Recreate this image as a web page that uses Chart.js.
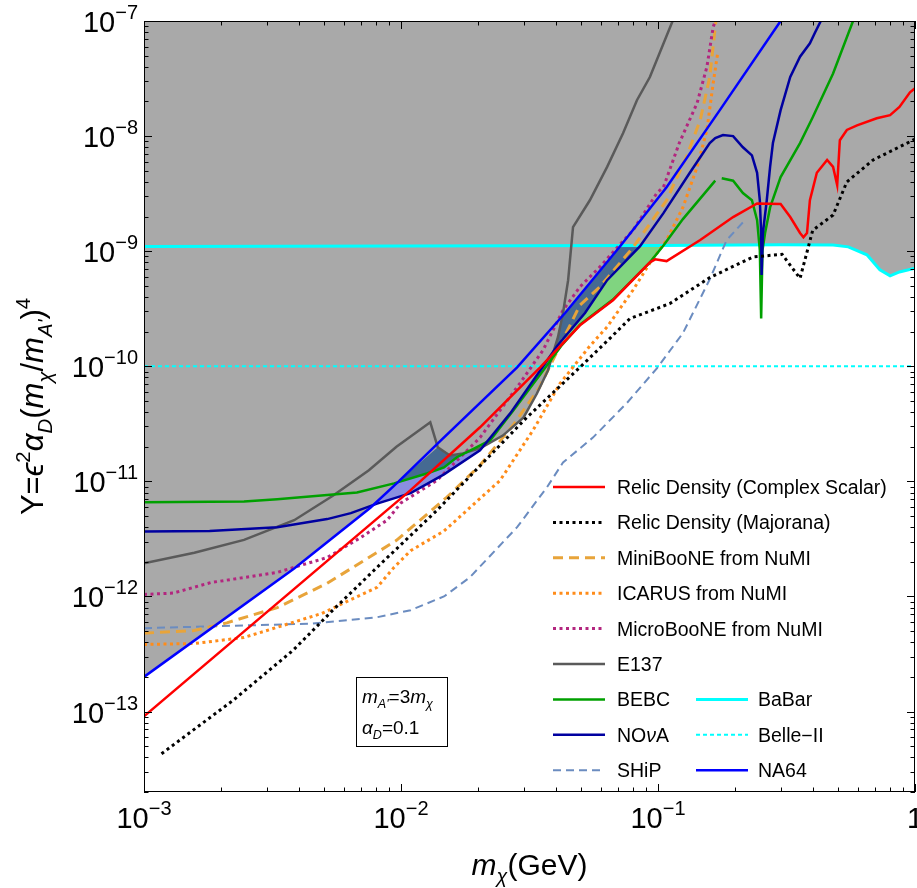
<!DOCTYPE html>
<html>
<head>
<meta charset="utf-8">
<script src="https://cdn.jsdelivr.net/npm/chart.js@4.4.0/dist/chart.umd.min.js"></script>
<style>
  html, body { margin: 0; padding: 0; background: #fff; }
  #wrap { width: 917px; height: 888px; }
</style>
</head>
<body>
<div id="wrap"><canvas id="chart" width="917" height="888"></canvas></div>
<script>
// axis ranges and tick labels
const xLimits = [1e-3, 1];
const yLimits = [2e-14, 1e-7];
const xTicks = [1e-3, 1e-2, 1e-1, 1];
const xTickLabels = [["10", "−3"], ["10", "−2"], ["10", "−1"], ["1", ""]];
const yTicks = [1e-13, 1e-12, 1e-11, 1e-10, 1e-9, 1e-8, 1e-7];
const yTickLabels = [["10", "−13"], ["10", "−12"], ["10", "−11"], ["10", "−10"], ["10", "−9"], ["10", "−8"], ["10", "−7"]];

// curves: [m_chi (GeV), Y]
const relicScalar = [[1e-3, 9.1e-14], [0.0109, 8.4e-12], [0.0203, 2.95e-11], [0.0348, 9.8e-11], [0.0497, 2.27e-10],
  [0.0668, 3.75e-10], [0.093, 8.0e-10], [0.0975, 8.5e-10], [0.108, 8.2e-10], [0.146, 1.25e-9], [0.196, 1.98e-9],
  [0.243, 2.6e-9], [0.3, 2.57e-9], [0.327, 1.98e-9], [0.357, 1.44e-9], [0.368, 1.32e-9], [0.38, 1.44e-9],
  [0.39, 2.77e-9], [0.415, 4.8e-9], [0.455, 6.2e-9], [0.48, 5.4e-9], [0.498, 3.75e-9], [0.51, 9.2e-9],
  [0.543, 1.13e-8], [0.595, 1.24e-8], [0.71, 1.43e-8], [0.8, 1.52e-8], [0.87, 1.79e-8], [0.956, 2.4e-8], [1, 2.6e-8]];
const relicMajorana = [[1.17e-3, 4.3e-14], [2.22e-3, 1.25e-13], [3.8e-3, 3.4e-13], [5.43e-3, 7.6e-13], [8.07e-3, 1.79e-12],
  [0.0138, 5.6e-12], [0.0309, 3.6e-11], [0.0497, 9.8e-11], [0.065, 1.75e-10], [0.0778, 2.6e-10], [0.111, 3.5e-10],
  [0.159, 5.9e-10], [0.234, 8.9e-10], [0.304, 9.4e-10], [0.357, 5.8e-10], [0.40, 1.52e-9], [0.48, 2.06e-9],
  [0.543, 4e-9], [0.687, 6.2e-9], [1, 9.4e-9]];
const miniboone = [[1e-3, 4.8e-13], [1.57e-3, 5.06e-13], [2.1e-3, 5.9e-13], [3.3e-3, 8.0e-13], [5.16e-3, 1.3e-12],
  [9.6e-3, 3.07e-12], [0.0151, 7.3e-12], [0.0203, 1.38e-11], [0.0273, 3.07e-11], [0.0345, 6.5e-11], [0.0416, 1.52e-10],
  [0.0497, 3.4e-10], [0.0594, 4.9e-10], [0.08, 1.08e-9], [0.108, 2.77e-9], [0.129, 6.6e-9], [0.146, 1.38e-8],
  [0.159, 3.26e-8], [0.168, 1e-7]];
const icarus = [[1e-3, 3.83e-13], [1.57e-3, 3.9e-13], [2.45e-3, 4.4e-13], [3.3e-3, 5.4e-13], [4.9e-3, 7.1e-13],
  [8.07e-3, 1.2e-12], [9.4e-3, 1.79e-12], [0.0109, 2.5e-12], [0.0147, 3.7e-12], [0.0243, 1.02e-11], [0.0327, 2.8e-11],
  [0.0416, 7.1e-11], [0.0543, 1.5e-10], [0.0634, 2.2e-10], [0.08, 4.6e-10], [0.093, 7.9e-10], [0.108, 1.25e-9],
  [0.125, 2.4e-9], [0.142, 5.4e-9], [0.155, 1.13e-8], [0.164, 2.9e-8], [0.171, 5.4e-8]];
const microboone = [[1e-3, 1.04e-12], [1.3e-3, 1.07e-12], [1.82e-3, 1.32e-12], [3.3e-3, 1.62e-12], [5.16e-3, 2.18e-12],
  [6.98e-3, 3.26e-12], [8.83e-3, 4.6e-12], [0.01, 6.5e-12], [0.0138, 1.02e-11], [0.0203, 2.4e-11], [0.029, 7.1e-11],
  [0.0357, 1.38e-10], [0.0427, 3.07e-10], [0.0497, 4.9e-10], [0.0594, 7.3e-10], [0.07, 1.1e-9], [0.08, 1.52e-9],
  [0.099, 3.2e-9], [0.105, 3.6e-9], [0.121, 8.7e-9], [0.142, 1.94e-8], [0.155, 4e-8], [0.164, 8.9e-8], [0.167, 1e-7]];
const e137 = [[1e-3, 1.94e-12], [1.57e-3, 2.4e-12], [2.45e-3, 3.1e-12], [3.84e-3, 4.6e-12], [5.43e-3, 7.5e-12],
  [7.5e-3, 1.25e-11], [9.6e-3, 2.0e-11], [0.013, 3.26e-11], [0.0139, 1.98e-11], [0.0155, 1.68e-11], [0.0174, 1.75e-11],
  [0.0203, 1.94e-11], [0.0249, 2.5e-11], [0.03, 3.6e-11], [0.0338, 5.8e-11], [0.0373, 9.2e-11], [0.0408, 1.79e-10],
  [0.0427, 2.9e-10], [0.0447, 5.6e-10], [0.0467, 1.62e-9], [0.0543, 2.77e-9], [0.0634, 5.4e-9], [0.0731, 1.06e-8],
  [0.0828, 2.05e-8], [0.093, 3.26e-8], [0.114, 1e-7]];
const bebc = [[1e-3, 6.6e-12], [2.45e-3, 6.7e-12], [3.3e-3, 7.0e-12], [5.16e-3, 7.6e-12], [6.74e-3, 8.0e-12],
  [9.4e-3, 9.6e-12], [0.0126, 1.17e-11], [0.0147, 1.32e-11], [0.0165, 1.62e-11], [0.0222, 2.27e-11], [0.0273, 4.1e-11],
  [0.0348, 8.5e-11], [0.042, 1.5e-10], [0.0497, 2.3e-10], [0.0668, 3.8e-10], [0.093, 8.0e-10], [0.105, 1.12e-9],
  [0.125, 1.9e-9], [0.167, 4.1e-9], [0.172, null], [0.177, 4.3e-9], [0.196, 4.1e-9], [0.214, 3.2e-9], [0.232, 2.77e-9],
  [0.243, 1.86e-9], [0.249, 1.02e-9], [0.252, 2.6e-10], [0.255, 1.02e-9], [0.261, 1.44e-9], [0.273, 2.4e-9],
  [0.3, 4.4e-9], [0.357, 8.7e-9], [0.4, 1.46e-8], [0.48, 3.5e-8], [0.574, 1e-7]];
const nova = [[1e-3, 3.67e-12], [1.8e-3, 3.7e-12], [3.3e-3, 4.0e-12], [5.16e-3, 4.7e-12], [6.38e-3, 5.3e-12],
  [8.07e-3, 6.4e-12], [0.0109, 7.9e-12], [0.0147, 1.15e-11], [0.0203, 1.86e-11], [0.0266, 3.9e-11], [0.0348, 9.2e-11],
  [0.0405, 1.5e-10], [0.052, 2.9e-10], [0.0634, 5.6e-10], [0.085, 1.1e-9], [0.105, 2.14e-9], [0.133, 4.8e-9],
  [0.159, 8.7e-9], [0.167, 9.6e-9], [0.179, 1.02e-8], [0.196, 1.0e-8], [0.214, 8.0e-9], [0.232, 6.8e-9],
  [0.243, 4.8e-9], [0.249, 2.77e-9], [0.252, 1.44e-9], [0.253, 6.2e-10], [0.256, 1.44e-9], [0.265, 2.77e-9],
  [0.273, 5.4e-9], [0.28, 8.7e-9], [0.3, 1.68e-8], [0.327, 3.26e-8], [0.357, 4.9e-8], [0.39, 6.4e-8],
  [0.408, 7.9e-8], [0.43, 1e-7]];
const ship = [[1e-3, 5.3e-13], [2.45e-3, 5.6e-13], [4.47e-3, 5.8e-13], [8.07e-3, 6.6e-13], [0.0109, 7.6e-13],
  [0.0147, 1.0e-12], [0.0185, 1.46e-12], [0.0283, 4e-12], [0.037, 8.9e-12], [0.0427, 1.46e-11], [0.0558, 2.4e-11],
  [0.0757, 4.8e-11], [0.099, 9.6e-11], [0.125, 1.94e-10], [0.159, 5.7e-10], [0.185, 1.25e-9], [0.218, 1.86e-9]];
const babar = [[1e-3, 1.1e-9], [0.1, 1.12e-9], [0.3, 1.14e-9], [0.48, 1.13e-9], [0.55, 1.09e-9], [0.65, 9.3e-10],
  [0.73, 6.9e-10], [0.8, 6.1e-10], [0.87, 6.6e-10], [1, 7.1e-10]];
const belle2 = [[1e-3, 1e-10], [1, 1e-10]];
const na64 = [[1e-3, 2.0e-13], [3.84e-3, 1.75e-12], [7.6e-3, 5.9e-12], [0.0098, 1.0e-11], [0.0143, 2.27e-11],
  [0.0283, 9.8e-11], [0.0435, 2.9e-10], [0.0711, 1.1e-9], [0.108, 3.6e-9], [0.174, 1.68e-8], [0.3, 1.0e-7]];

// excluded (gray) edge: NA64, then E137 lower rim, NA64 again, then BaBar
const grayEdge = [
  ...na64.filter(p => p[0] < 0.0137),
  ...e137.filter(p => p[0] >= 0.0137 && p[0] <= 0.043),
  ...na64.filter(p => p[0] > 0.043 && p[0] <= 0.0711),
  ...babar.filter(p => p[0] > 0.0711)
];
const bebcEdge = bebc.filter(p => p[0] <= 0.135 && p[1] !== null);
const novaEdge = nova.filter(p => p[0] <= 0.135);

const FONT = '"Liberation Sans", Arial, "DejaVu Sans", sans-serif';
const GRAY = '#a9a9a9';

const series = [
  { key: 'relic', data: relicScalar, color: '#ff0000', width: 2.5, dash: [] },
  { key: 'maj', data: relicMajorana, color: '#000000', width: 3, dash: [3, 3.5] },
  { key: 'na64', data: na64, color: '#0000ff', width: 2.5, dash: [] },
  { key: 'nova', data: nova, color: '#0000a0', width: 2.5, dash: [] },
  { key: 'bebc', data: bebc, color: '#00a000', width: 2.5, dash: [] },
  { key: 'e137', data: e137, color: '#5a5a5a', width: 2.5, dash: [] },
  { key: 'micro', data: microboone, color: '#b3267f', width: 3, dash: [3, 3.5] },
  { key: 'mini', data: miniboone, color: '#e8a43a', width: 3, dash: [10, 6] },
  { key: 'icarus', data: icarus, color: '#ff8c1a', width: 3, dash: [3, 3.5] },
  { key: 'ship', data: ship, color: '#6b8cc0', width: 2, dash: [8, 5] },
  { key: 'babar', data: babar, color: '#00ffff', width: 3, dash: [] },
  { key: 'belle', data: belle2, color: '#00ffff', width: 2, dash: [4, 3] }
];
const styleOf = k => series.find(s => s.key === k);

// legend: [label parts, series key, column, row]
const legendItems = [
  [[['Relic Density (Complex Scalar)', 'n']], 'relic', 0, 0],
  [[['Relic Density (Majorana)', 'n']], 'maj', 0, 1],
  [[['MiniBooNE from NuMI', 'n']], 'mini', 0, 2],
  [[['ICARUS from NuMI', 'n']], 'icarus', 0, 3],
  [[['MicroBooNE from NuMI', 'n']], 'micro', 0, 4],
  [[['E137', 'n']], 'e137', 0, 5],
  [[['BEBC', 'n']], 'bebc', 0, 6],
  [[['NO', 'n'], ['ν', 'i'], ['A', 'n']], 'nova', 0, 7],
  [[['SHiP', 'n']], 'ship', 0, 8],
  [[['BaBar', 'n']], 'babar', 1, 6],
  [[['Belle−II', 'n']], 'belle', 1, 7],
  [[['NA64', 'n']], 'na64', 1, 8]
];

function toXY(arr) { return arr.map(p => ({ x: p[0], y: p[1] })); }

// rich text with italic / sub / sup pieces
function richText(ctx, parts, x, y, size, draw) {
  let cx = x;
  for (const [t, s] of parts) {
    const small = s === 'sub' || s === 'isub' || s === 'sup';
    const fs = small ? size * 0.66 : size;
    const italic = s === 'i' || s === 'isub';
    ctx.font = (italic ? 'italic ' : '') + fs + 'px ' + FONT;
    let dy = 0;
    if (s === 'sub' || s === 'isub') dy = size * 0.28;
    if (s === 'sup') dy = -size * 0.42;
    if (draw) ctx.fillText(t, cx, y + dy);
    cx += ctx.measureText(t).width;
  }
  return cx - x;
}

function powLabel(ctx, base, exp, x, y, align) {
  ctx.font = '29px ' + FONT;
  const wb = ctx.measureText(base).width;
  ctx.font = '20px ' + FONT;
  const we = ctx.measureText(exp).width;
  let x0 = x;
  if (align === 'right') x0 = x - wb - we;
  if (align === 'center') x0 = x - (wb + we) / 2;
  ctx.font = '29px ' + FONT;
  ctx.fillText(base, x0, y);
  ctx.font = '20px ' + FONT;
  ctx.fillText(exp, x0 + wb, y - 13);
}

const decorations = {
  id: 'decorations',
  afterDraw(chart) {
    const ctx = chart.ctx;
    const xs = chart.scales.x, ys = chart.scales.y;
    const { left, right, top, bottom } = chart.chartArea;
    ctx.save();
    ctx.fillStyle = '#000';
    ctx.strokeStyle = '#000';
    ctx.textBaseline = 'alphabetic';
    ctx.textAlign = 'left';

    // frame
    ctx.lineWidth = 1;
    ctx.strokeRect(left + 0.5, top + 0.5, right - left - 1, bottom - top - 1);

    // ticks on all four sides
    ctx.beginPath();
    for (let d = -3; d <= 0; d++) {
      for (let m = 1; m <= 9; m++) {
        const v = m * Math.pow(10, d);
        if (v > xLimits[1] * 1.0001) break;
        const px = Math.round(xs.getPixelForValue(v)) + 0.5;
        const len = m === 1 ? 8 : 4.5;
        ctx.moveTo(px, bottom); ctx.lineTo(px, bottom - len);
        ctx.moveTo(px, top); ctx.lineTo(px, top + len);
      }
    }
    for (let d = -14; d <= -7; d++) {
      for (let m = 1; m <= 9; m++) {
        const v = m * Math.pow(10, d);
        if (v < yLimits[0] * 0.9999 || v > yLimits[1] * 1.0001) continue;
        const py = Math.round(ys.getPixelForValue(v)) + 0.5;
        const len = m === 1 ? 8 : 4.5;
        ctx.moveTo(left, py); ctx.lineTo(left + len, py);
        ctx.moveTo(right, py); ctx.lineTo(right - len, py);
      }
    }
    ctx.stroke();

    // tick labels
    yTicks.forEach((v, i) => {
      const py = ys.getPixelForValue(v);
      powLabel(ctx, yTickLabels[i][0], yTickLabels[i][1], 138, py + 11, 'right');
    });
    xTicks.forEach((v, i) => {
      const px = xs.getPixelForValue(v);
      powLabel(ctx, xTickLabels[i][0], xTickLabels[i][1], px, 828, 'center');
    });

    // axis titles
    const xTitle = [['m', 'i'], ['χ', 'isub'], ['(GeV)', 'n']];
    const wx = richText(ctx, xTitle, 0, 0, 30, false);
    richText(ctx, xTitle, (left + right) / 2 - wx / 2, 875, 30, true);

    const yTitle = [['Y=', 'n'], ['ϵ', 'i'], ['2', 'sup'], ['α', 'i'], ['D', 'isub'], ['(', 'n'], ['m', 'i'],
      ['χ', 'isub'], ['/', 'n'], ['m', 'i'], ["A'", 'isub'], [')', 'n'], ['4', 'sup']];
    ctx.save();
    ctx.translate(43, (top + bottom) / 2);
    ctx.rotate(-Math.PI / 2);
    const wy = richText(ctx, yTitle, 0, 0, 31, false);
    richText(ctx, yTitle, -wy / 2, 0, 31, true);
    ctx.restore();

    // legend
    legendItems.forEach(([parts, key, col, row]) => {
      const st = styleOf(key);
      const ly = 487 + row * 35.4;
      const lx0 = col === 0 ? 553 : 696;
      ctx.save();
      ctx.strokeStyle = st.color;
      ctx.lineWidth = st.width;
      ctx.setLineDash(st.dash);
      ctx.beginPath();
      ctx.moveTo(lx0, ly); ctx.lineTo(lx0 + 52, ly);
      ctx.stroke();
      ctx.restore();
      ctx.fillStyle = '#000';
      richText(ctx, parts, col === 0 ? 617 : 758, ly + 7, 19.5, true);
    });

    // parameter box
    ctx.fillStyle = '#fff';
    ctx.fillRect(356, 677, 91, 69);
    ctx.lineWidth = 1;
    ctx.strokeStyle = '#000';
    ctx.strokeRect(356.5, 677.5, 91, 69);
    ctx.fillStyle = '#000';
    richText(ctx, [['m', 'i'], ["A'", 'isub'], ['=3', 'n'], ['m', 'i'], ['χ', 'isub']], 362, 703, 19, true);
    richText(ctx, [['α', 'i'], ['D', 'isub'], ['=0.1', 'n']], 362, 734, 19, true);

    ctx.restore();
  }
};

const lineSets = series.map(s => ({
  label: s.key,
  data: toXY(s.data),
  borderColor: s.color,
  borderWidth: s.width,
  borderDash: s.dash,
  pointRadius: 0,
  fill: false,
  order: 0
}));

new Chart(document.getElementById('chart').getContext('2d'), {
  type: 'line',
  data: {
    datasets: [
      { label: 'excluded', data: toXY(grayEdge), borderWidth: 0, borderColor: 'rgba(0,0,0,0)',
        backgroundColor: GRAY, pointRadius: 0, fill: 'end', order: 10 },
      { label: 'bothEdge', data: toXY(bebcEdge), borderWidth: 0, borderColor: 'rgba(0,0,0,0)',
        backgroundColor: '#456a92', pointRadius: 0, fill: 'end', order: 30 },
      { label: 'novaEdge', data: toXY(novaEdge), borderWidth: 0, borderColor: 'rgba(0,0,0,0)',
        pointRadius: 0, fill: { target: 1, above: '#80d480', below: '#8a8ee0' }, order: 20 },
      ...lineSets
    ]
  },
  options: {
    responsive: false,
    animation: false,
    layout: { padding: { left: 144, top: 21, right: 2, bottom: 96 } },
    scales: {
      x: { type: 'logarithmic', min: xLimits[0], max: xLimits[1], display: false },
      y: { type: 'logarithmic', min: yLimits[0], max: yLimits[1], display: false }
    },
    plugins: {
      legend: { display: false },
      tooltip: { enabled: false },
      filler: { drawTime: 'beforeDatasetsDraw' }
    }
  },
  plugins: [decorations]
});
</script>
</body>
</html>
